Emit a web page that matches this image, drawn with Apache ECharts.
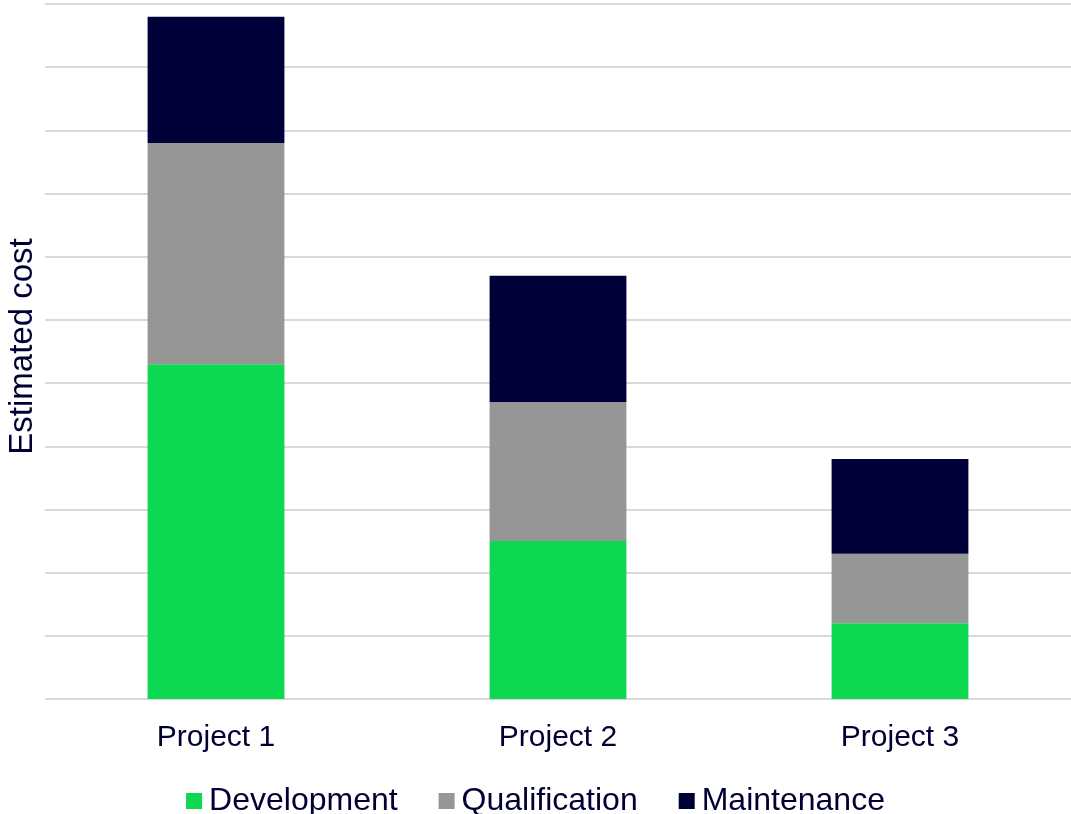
<!DOCTYPE html>
<html>
<head>
<meta charset="utf-8">
<script src="https://cdn.jsdelivr.net/npm/echarts@6/dist/echarts.min.js"></script>
<style>
html,body{margin:0;padding:0;background:#fff;}
#chart{width:1071px;height:814px;}
</style>
</head>
<body>
<div id="chart"></div>
<script>
const categories = ['Project 1', 'Project 2', 'Project 3'];
const development = [5.30, 2.50, 1.20];
const qualification = [3.50, 2.20, 1.10];
const maintenance = [2.00, 2.00, 1.50];
const seriesNames = ['Development', 'Qualification', 'Maintenance'];
const yAxisName = 'Estimated cost';

const textColor = '#000033';
const font = 'Liberation Sans, Arial, sans-serif';

const chart = echarts.init(document.getElementById('chart'), null, {renderer: 'canvas'});
const colors = ['#0cd850', '#969696', '#000038'];
const data = [development, qualification, maintenance];

chart.setOption({
  animation: false,
  backgroundColor: '#ffffff',
  color: colors,
  grid: {left: 45, right: 0, top: 4, bottom: 115, containLabel: false, outerBoundsMode: 'none'},
  legend: {
    data: seriesNames,
    top: 780,
    left: 'center',
    itemWidth: 16,
    itemHeight: 16,
    itemGap: 41,
    icon: 'rect',
    textStyle: {color: textColor, fontSize: 32, fontFamily: font, padding: [0, 0, 0, 2]}
  },
  xAxis: {
    type: 'category',
    data: categories,
    axisLine: {show: false},
    axisTick: {show: false},
    axisLabel: {color: textColor, fontSize: 30, fontFamily: font, margin: 24}
  },
  yAxis: {
    type: 'value',
    min: 0,
    max: 11,
    interval: 1,
    name: yAxisName,
    nameLocation: 'middle',
    nameGap: 6,
    nameTextStyle: {color: textColor, fontSize: 33, fontFamily: font, padding: [0, 0, 0, 10]},
    axisLine: {show: false},
    axisTick: {show: false},
    axisLabel: {show: false},
    splitLine: {show: true, lineStyle: {color: '#d9d9d9', width: 2}}
  },
  series: seriesNames.map((name, i) => ({
    name: name,
    type: 'bar',
    stack: 'total',
    barWidth: '40%',
    data: data[i],
    itemStyle: {color: colors[i]}
  }))
});
</script>
</body>
</html>
